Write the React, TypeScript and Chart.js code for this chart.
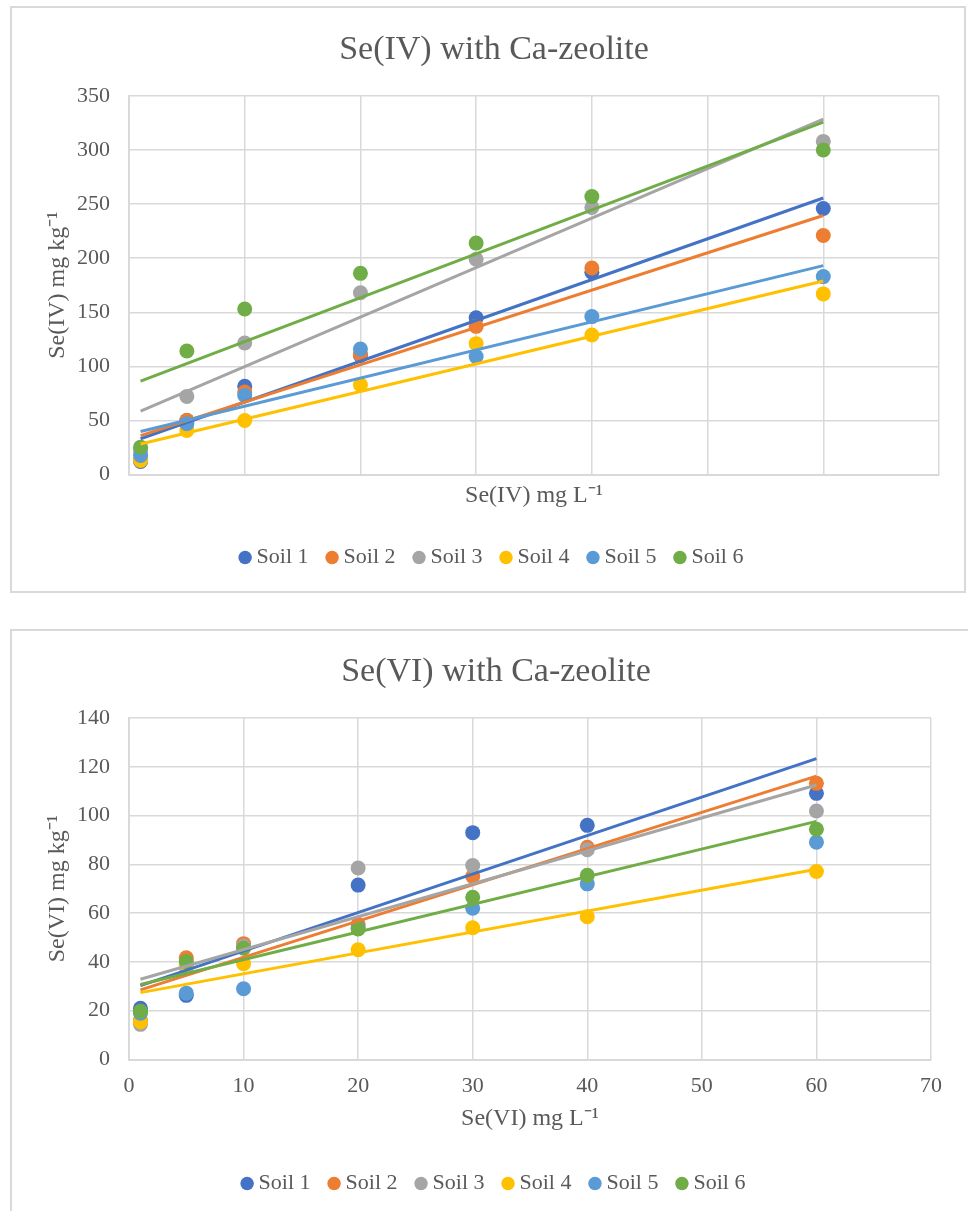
import React, { useEffect, useRef } from "react";
import { Chart, registerables } from "chart.js";

Chart.register(...registerables);

// ---------- data ----------
const SOILS = ["Soil 1", "Soil 2", "Soil 3", "Soil 4", "Soil 5", "Soil 6"];
const COLORS = ["#4472C4", "#ED7D31", "#A5A5A5", "#FFC000", "#5B9BD5", "#70AD47"];
const X_VALUES = [1, 5, 10, 20, 30, 40, 60];

// Se(IV) with Ca-zeolite (mg kg-1)
const SE4_SOIL1 = [12, 50, 81.5, 110, 145, 187, 246];
const SE4_SOIL2 = [14, 50, 76.2, 111, 137, 191, 221];
const SE4_SOIL3 = [22, 72.2, 121.6, 168, 199, 247, 308];
const SE4_SOIL4 = [13, 40.7, 50, 83, 121, 129, 167];
const SE4_SOIL5 = [17.6, 47, 73.1, 116, 109, 146, 183];
const SE4_SOIL6 = [25.3, 114.2, 153, 186, 214, 257, 300];
const SE4_TRENDLINE = [true, true, true, true, true, true];

// Se(VI) with Ca-zeolite (mg kg-1)
const SE6_SOIL1 = [21, 26.3, 46, 71.5, 93, 96, 109.1];
const SE6_SOIL2 = [16, 41.7, 47.5, 55.4, 75, 87, 113.2];
const SE6_SOIL3 = [14.4, 38, 46.5, 78.5, 79.5, 86, 101.9];
const SE6_SOIL4 = [15.5, 38.8, 39.3, 45, 54, 58.5, 77.1];
const SE6_SOIL5 = [19, 27.2, 29, 54, 62, 72, 89.1];
const SE6_SOIL6 = [19.8, 40.2, 45.6, 53.5, 66.5, 75.5, 94.4];
const SE6_TRENDLINE = [true, true, true, true, false, true];

const SE4_SERIES = [SE4_SOIL1, SE4_SOIL2, SE4_SOIL3, SE4_SOIL4, SE4_SOIL5, SE4_SOIL6];
const SE6_SERIES = [SE6_SOIL1, SE6_SOIL2, SE6_SOIL3, SE6_SOIL4, SE6_SOIL5, SE6_SOIL6];

const X_MIN = 0, X_MAX = 70, X_STEP = 10;
const SE4_Y = { min: 0, max: 350, step: 50 };
const SE6_Y = { min: 0, max: 140, step: 20 };

// ---------- helpers ----------
const FONT = "'Liberation Serif', 'Times New Roman', serif";
const TEXT = "#595959";
const GRID = "#d9d9d9";

function linearFit(xs: number[], ys: number[]) {
  const n = xs.length;
  const mx = xs.reduce((a, b) => a + b, 0) / n;
  const my = ys.reduce((a, b) => a + b, 0) / n;
  let sxy = 0, sxx = 0;
  for (let i = 0; i < n; i++) {
    sxy += (xs[i] - mx) * (ys[i] - my);
    sxx += (xs[i] - mx) * (xs[i] - mx);
  }
  const slope = sxy / sxx;
  return { slope, intercept: my - slope * mx };
}

interface Spec {
  title: string;
  xTitle: string;
  yTitle: string;
  series: number[][];
  trend: boolean[];
  y: { min: number; max: number; step: number };
  showXTicks: boolean;
  rightWidth: number;
  titlePad: { top: number; bottom: number };
  xTitlePad: { top: number; bottom: number };
  padBottom: number;
}

function buildConfig(s: Spec): any {
  const points = s.series.map((ys, i) => ({
    label: SOILS[i],
    data: X_VALUES.map((x, j) => ({ x, y: ys[j] })),
    backgroundColor: COLORS[i],
    borderColor: COLORS[i],
    pointRadius: 7.5,
    pointHoverRadius: 7.5,
    borderWidth: 0,
    pointBorderWidth: 0,
    showLine: false,
    order: 11 - i,
  }));
  const trends: any[] = [];
  s.series.forEach((ys, i) => {
    if (!s.trend[i]) return;
    const { slope, intercept } = linearFit(X_VALUES, ys);
    const x0 = Math.min(...X_VALUES);
    const x1 = Math.max(...X_VALUES);
    trends.push({
      label: SOILS[i] + " trend",
      data: [
        { x: x0, y: intercept + slope * x0 },
        { x: x1, y: intercept + slope * x1 },
      ],
      borderColor: COLORS[i],
      backgroundColor: COLORS[i],
      borderWidth: 3,
      pointRadius: 0,
      showLine: true,
      fill: false,
      order: 5 - i,
    });
  });

  return {
    type: "scatter",
    data: { datasets: [...points, ...trends] },
    options: {
      responsive: false,
      animation: false,
      events: [],
      layout: { padding: { left: 12, right: 0, top: 0, bottom: s.padBottom } },
      plugins: {
        tooltip: { enabled: false },
        title: {
          display: true,
          text: s.title,
          color: TEXT,
          font: { family: FONT, size: 34, weight: "normal" },
          padding: s.titlePad,
        },
        legend: {
          display: true,
          position: "bottom",
          labels: {
            usePointStyle: true,
            pointStyle: "circle",
            boxWidth: 1,
            boxHeight: 9.5,
            padding: 23,
            color: TEXT,
            font: { family: FONT, size: 22 },
            filter: (item: any) => item.datasetIndex < SOILS.length,
            sort: (a: any, b: any) => a.datasetIndex - b.datasetIndex,
          },
        },
      },
      scales: {
        x: {
          type: "linear",
          position: "bottom",
          min: X_MIN,
          max: X_MAX,
          ticks: {
            display: s.showXTicks,
            stepSize: X_STEP,
            color: TEXT,
            padding: 13.8,
            font: { family: FONT, size: 22 },
          },
          grid: { color: GRID, lineWidth: 1.5, drawTicks: false },
          border: { display: true, color: GRID, width: 2 },
          title: {
            display: true,
            text: s.xTitle,
            color: TEXT,
            font: { family: FONT, size: 24 },
            padding: s.xTitlePad,
          },
        },
        y: {
          type: "linear",
          position: "left",
          min: s.y.min,
          max: s.y.max,
          ticks: {
            stepSize: s.y.step,
            color: TEXT,
            padding: 19,
            font: { family: FONT, size: 22 },
          },
          grid: { color: GRID, lineWidth: 1.5, drawTicks: false },
          border: { display: true, color: GRID, width: 2 },
          title: {
            display: true,
            text: s.yTitle,
            color: TEXT,
            font: { family: FONT, size: 24 },
            padding: { top: 19, bottom: 0 },
          },
          afterFit: (scale: any) => {
            scale.width = 105;
          },
        },
        yRight: {
          type: "linear",
          position: "right",
          display: true,
          ticks: { display: false },
          grid: { display: false, drawTicks: false },
          border: { display: false },
          afterFit: (scale: any) => {
            scale.width = s.rightWidth;
          },
        },
      },
    },
  };
}

function ChartCanvas({ spec, width, height }: { spec: Spec; width: number; height: number }) {
  const ref = useRef<HTMLCanvasElement | null>(null);
  useEffect(() => {
    if (!ref.current) return;
    const chart = new Chart(ref.current, buildConfig(spec));
    return () => chart.destroy();
  }, [spec]);
  return <canvas ref={ref} width={width} height={height} style={{ display: "block", width, height }} />;
}

const SPEC_SE4: Spec = {
  title: "Se(IV) with Ca-zeolite",
  xTitle: "Se(IV) mg L\u207B\u00B9",
  yTitle: "Se(IV) mg kg\u207B\u00B9",
  series: SE4_SERIES,
  trend: SE4_TRENDLINE,
  y: SE4_Y,
  showXTicks: false,
  rightWidth: 25,
  titlePad: { top: 22.1, bottom: 25.1 },
  xTitlePad: { top: 6.6, bottom: 13.6 },
  padBottom: 12.5,
};

const SPEC_SE6: Spec = {
  title: "Se(VI) with Ca-zeolite",
  xTitle: "Se(VI) mg L\u207B\u00B9",
  yTitle: "Se(VI) mg kg\u207B\u00B9",
  series: SE6_SERIES,
  trend: SE6_TRENDLINE,
  y: SE6_Y,
  showXTicks: true,
  rightWidth: 37,
  titlePad: { top: 20.6, bottom: 25.6 },
  xTitlePad: { top: -9.4, bottom: 16.6 },
  padBottom: 6.5,
};

export default function App() {
  return (
    <div>
      <div
        style={{
          position: "absolute",
          left: 10,
          top: 6,
          width: 956,
          height: 587,
          boxSizing: "border-box",
          border: "2px solid #d9d9d9",
          background: "#fff",
        }}
      >
        <ChartCanvas spec={SPEC_SE4} width={952} height={583} />
      </div>
      <div
        style={{
          position: "absolute",
          left: 10,
          top: 629,
          width: 958,
          height: 582,
          boxSizing: "border-box",
          borderLeft: "2px solid #d9d9d9",
          borderTop: "2px solid #d9d9d9",
          background: "#fff",
          overflow: "hidden",
        }}
      >
        <ChartCanvas spec={SPEC_SE6} width={956} height={580} />
      </div>
    </div>
  );
}
